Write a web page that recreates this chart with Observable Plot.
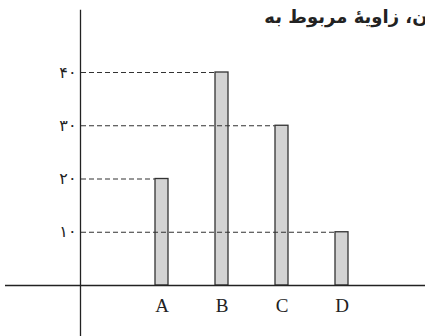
<!DOCTYPE html>
<html>
<head>
<meta charset="utf-8">
<script src="https://cdn.jsdelivr.net/npm/d3@7"></script>
<script src="https://cdn.jsdelivr.net/npm/@observablehq/plot@0.6"></script>
<style>
  html, body { margin: 0; padding: 0; background: #fff; }
  svg { display: block; }
</style>
</head>
<body>
<div id="chart"></div>
<script>
const categories = ["A", "B", "C", "D"];
const values = [20, 40, 30, 10];
const yTicks = [10, 20, 30, 40];
const yTickLabels = ["۱۰", "۲۰", "۳۰", "۴۰"];
const titleText = "ن، زاویهٔ مربوط به";

const data = categories.map((c, i) => ({category: c, value: values[i]}));
const tickLabel = new Map(yTicks.map((t, i) => [t, yTickLabels[i]]));

const marginLeft = 80;
const xOpts = {type: "band", domain: categories, range: [154, 348.3], paddingInner: 0.78, paddingOuter: 0};
const xScale = Plot.scale({x: xOpts});
const bw = xScale.bandwidth;
const firstBandStart = xScale.apply(categories[0]);

const chart = Plot.plot({
  width: 425,
  height: 336,
  marginLeft,
  marginRight: 0,
  marginTop: 10,
  marginBottom: 0,
  style: {background: "#fff", color: "#222"},
  x: {...xOpts, axis: null},
  y: {domain: [0, 40], range: [285, 72], axis: null},
  marks: [
    Plot.barY(data, {x: "category", y: "value", fill: "#d3d3d3", stroke: "#333", strokeWidth: 1.3}),
    Plot.ruleY(data, {y: "value", x1: () => categories[0], x2: "category",
      insetLeft: -(firstBandStart - marginLeft), insetRight: bw,
      stroke: "#333", strokeWidth: 1.1, strokeDasharray: "5,3"}),
    Plot.ruleY([0], {stroke: "#222", strokeWidth: 1.3, insetLeft: -75}),
    Plot.frame({anchor: "left", stroke: "#222", strokeWidth: 1.3}),
    Plot.axisY({ticks: yTicks, tickFormat: d => tickLabel.get(d), tickSize: 0, tickPadding: 4, fontSize: 16, fontFamily: "DejaVu Sans", label: null}),
    Plot.text(categories, {x: d => d, y: () => 0, dy: 13, lineAnchor: "top", fontSize: 19, fontFamily: "Liberation Serif", fill: "#222"}),
    Plot.text([titleText], {frameAnchor: "top-right", textAnchor: "end", lineAnchor: "top", dx: 2, dy: 0, fontSize: 18, fontWeight: "bold", fontFamily: "DejaVu Sans", fill: "#222"})
  ]
});
document.getElementById("chart").appendChild(chart);
</script>
</body>
</html>
